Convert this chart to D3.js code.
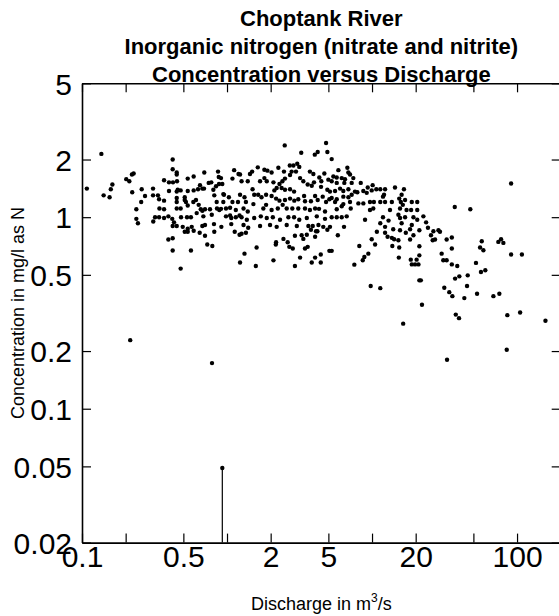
<!DOCTYPE html>
<html>
<head>
<meta charset="utf-8">
<script src="https://cdn.jsdelivr.net/npm/d3@7"></script>
<style>
  body { margin: 0; background: #fff; }
  svg { display: block; font-family: 'Liberation Sans', Arial, sans-serif; }
</style>
</head>
<body>
<div class="chart"></div>
<script>
'use strict';

// Chart text
const titleLines = [
  'Choptank River',
  'Inorganic nitrogen (nitrate and nitrite)',
  'Concentration versus Discharge'
];
const xTitle = 'Discharge in m';
const yTitle = 'Concentration in mg/l as N';

// Tick values, and which of them carry a label
const xTicks = [0.1, 0.2, 0.5, 1, 2, 5, 10, 20, 50, 100];
const xLabels = [0.1, 0.5, 2, 5, 20, 100];
const yTicks = [0.02, 0.05, 0.1, 0.2, 0.5, 1, 2, 5];

// Samples: [discharge m3/s, concentration mg/l]
const samples = [
  [0.108,1.41],[0.136,2.14],[0.141,1.30],[0.155,1.27],[0.158,1.40],[0.162,1.48],[0.202,1.58],[0.212,1.54],[0.221,1.67],[0.227,1.69],
  [0.222,1.35],[0.237,1.10],[0.237,0.98],[0.243,0.93],[0.258,1.40],[0.256,1.20],[0.272,1.29],[0.215,0.228],
  [0.422,2.00],[0.422,1.78],[0.450,1.71],[0.450,1.67],[0.368,1.56],[0.398,1.52],[0.424,1.52],[0.452,1.54],[0.457,1.39],[0.309,1.41],
  [0.309,1.30],[0.334,1.30],[0.340,1.24],[0.368,1.22],[0.368,1.10],[0.398,1.37],[0.450,1.36],[0.479,1.38],[0.450,1.26],[0.450,1.20],
  [0.450,1.11],[0.479,1.11],[0.511,1.27],[0.511,1.23],[0.536,1.59],[0.589,1.63],[0.536,1.37],[0.589,1.38],[0.631,1.40],[0.651,1.47],
  [0.676,1.41],[0.694,1.41],[0.697,1.71],[0.748,1.51],[0.779,1.52],[0.867,1.73],[0.877,1.62],[0.909,1.60],[0.805,1.39],[0.840,1.45],
  [0.881,1.49],[0.928,1.49],[0.943,1.32],[0.953,1.31],[1.09,1.59],[1.12,1.76],[1.20,1.68],[0.521,1.20],[0.536,1.15],[0.586,1.20],
  [0.611,1.23],[0.638,1.16],[0.659,1.10],[0.705,1.10],[0.763,1.10],[0.817,1.30],[0.849,1.20],[0.909,1.105],[0.943,1.20],[0.984,1.11],
  [1.03,1.27],[1.05,1.12],[1.09,1.20],[1.15,1.09],[1.19,1.20],[1.22,1.02],[0.342,1.11],[0.319,1.00],[0.310,0.95],[0.340,1.00],
  [0.368,0.99],[0.394,1.01],[0.419,0.98],[0.431,0.94],[0.482,1.00],[0.530,1.00],[0.564,1.00],[0.618,1.05],[0.676,1.08],[0.687,1.01],
  [0.705,0.91],[0.785,1.03],[0.853,1.11],[0.885,1.09],[0.984,1.01],[1.05,1.02],[1.07,0.99],[1.15,1.00],[0.422,0.90],[0.450,0.90],
  [0.495,0.89],[0.571,0.89],[0.676,0.90],[0.813,0.92],[0.914,0.89],[1.07,0.92],
  [0.511,0.84],[0.536,0.87],[0.536,0.84],[0.589,0.85],[0.648,0.83],[0.705,0.80],[0.817,0.84],[1.13,0.84],[1.22,0.81],[0.394,0.764],
  [0.422,0.776],[0.422,0.67],[0.564,0.67],[0.731,0.72],[0.792,0.707],[0.479,0.539],
  [2.50,2.37],[3.25,2.17],[4.03,2.12],[4.22,2.19],[4.82,2.44],[4.92,2.19],[1.49,1.73],[1.44,1.68],[1.63,1.82],[1.81,1.77],
  [1.90,1.75],[2.03,1.71],[2.26,1.81],[2.47,1.73],[2.71,1.86],[2.87,1.86],[3.05,1.90],[3.15,1.83],[2.79,1.73],[2.99,1.73],
  [2.72,1.66],[2.51,1.59],[2.41,1.54],[2.30,1.49],[2.20,1.42],[3.73,1.73],[3.94,1.68],[4.33,1.61],[4.69,1.69],[5.00,1.57],
  [3.19,1.60],[3.36,1.54],[3.60,1.48],[3.84,1.46],[3.98,1.52],[4.47,1.54],[4.45,1.44],[4.92,1.39],[1.23,1.67],[1.26,1.54],
  [1.39,1.54],[1.50,1.40],[1.69,1.54],[1.81,1.60],[1.88,1.54],[2.09,1.52],[2.12,1.38],[2.38,1.42],[2.51,1.39],[2.72,1.40],
  [2.90,1.36],[1.23,1.31],[1.32,1.27],[1.35,1.20],[1.54,1.31],[1.64,1.31],[1.73,1.27],[1.86,1.31],[2.03,1.29],[2.18,1.25],
  [2.30,1.22],[2.51,1.23],[2.72,1.25],[2.91,1.22],[3.10,1.24],[3.40,1.29],[3.45,1.21],[3.79,1.21],[4.05,1.29],[4.22,1.23],
  [4.57,1.28],[4.82,1.20],[5.08,1.24],[1.30,1.11],[1.39,1.07],[1.52,1.17],[1.78,1.11],[1.86,1.16],[2.03,1.09],[2.24,1.11],
  [2.42,1.16],[2.58,1.11],[2.82,1.11],[3.10,1.11],[3.45,1.11],[3.73,1.09],[4.05,1.11],[4.31,1.105],[4.74,1.07],[1.26,1.00],
  [1.37,0.97],[1.54,0.99],[1.71,1.01],[1.88,0.99],[2.07,1.00],[2.32,0.97],[2.65,1.00],[2.90,1.00],[3.15,0.97],[3.55,0.99],
  [4.16,1.01],[4.74,0.98],[1.30,0.91],[1.69,0.90],[1.98,0.91],[2.20,0.89],[2.58,0.91],[3.03,0.90],[3.64,0.90],[4.27,0.91],
  [1.40,0.88],[3.79,0.86],[3.90,0.90],[4.20,0.845],[4.61,0.89],[4.92,0.86],[1.26,0.82],[1.35,0.83],[2.18,0.74],[2.45,0.77],
  [2.62,0.74],[2.94,0.80],[3.27,0.805],[3.36,0.77],[3.55,0.81],[4.05,0.79],[4.11,0.845],[2.17,0.72],[2.69,0.70],[2.84,0.686],
  [3.45,0.686],[3.60,0.70],[1.60,0.694],[1.32,0.645],[1.23,0.58],[2.09,0.595],[3.19,0.615],[4.05,0.615],[4.43,0.638],[3.84,0.58],
  [4.43,0.58],[1.58,0.556],[2.94,0.556],[5.08,0.667],
  [5.27,2.01],[5.86,1.76],[6.76,1.81],[6.87,1.71],[5.41,1.63],[5.71,1.61],[5.27,1.54],[5.71,1.51],[6.18,1.60],[6.51,1.58],
  [7.05,1.67],[7.43,1.60],[6.44,1.51],[7.24,1.51],[8.36,1.51],[5.13,1.36],[5.56,1.37],[6.02,1.41],[6.34,1.37],[6.87,1.40],
  [7.63,1.36],[8.71,1.37],[9.34,1.43],[10.1,1.47],[10.7,1.40],[11.4,1.40],[12.3,1.40],[14.4,1.43],[16.6,1.40],[5.27,1.26],
  [5.71,1.24],[6.34,1.28],[6.87,1.27],[7.24,1.31],[7.92,1.35],[9.19,1.34],[9.95,1.38],[11.9,1.28],[12.1,1.31],[16.0,1.31],
  [15.4,1.25],[5.56,1.20],[6.34,1.17],[7.05,1.20],[8.05,1.18],[8.71,1.18],[9.68,1.20],[10.3,1.20],[11.4,1.20],[12.3,1.20],
  [13.7,1.20],[15.8,1.20],[16.9,1.23],[18.8,1.20],[20.5,1.20],[5.71,1.10],[6.18,1.14],[7.13,1.11],[9.68,1.09],[10.2,1.11],
  [13.3,1.09],[15.6,1.11],[16.3,1.16],[17.3,1.09],[18.6,1.09],[20.5,1.09],[5.27,1.00],[5.71,1.00],[6.18,1.00],[6.69,1.01],
  [8.95,0.97],[11.9,1.00],[13.0,0.96],[15.2,1.03],[15.6,0.99],[16.9,1.00],[19.3,1.00],[20.5,0.97],[6.41,0.89],[11.4,0.93],
  [12.3,0.89],[16.0,0.93],[18.8,0.91],
  [5.13,0.89],[10.8,0.84],[14.0,0.865],[15.6,0.855],[17.1,0.83],[18.3,0.865],[19.3,0.805],[18.3,0.764],[21.2,0.855],[5.81,0.805],
  [9.95,0.767],[10.5,0.72],[12.3,0.83],[12.8,0.79],[13.7,0.78],[14.2,0.767],[15.2,0.758],[13.8,0.707],[15.4,0.694],[5.27,0.667],
  [8.17,0.707],[9.43,0.645],[8.85,0.62],[8.63,0.596],[7.55,0.565],[15.3,0.615],[18.5,0.60],[18.8,0.567],[19.8,0.567],[20.3,0.60],
  [20.9,0.567],[21.2,0.705],[21.2,0.632],[9.79,0.437],[11.4,0.426],[16.4,0.278],[21.2,0.468],
  [91.0,1.50],[37.2,1.13],[47.6,1.10],[26.5,0.845],[28.7,0.855],[29.4,0.84],[25.5,0.805],[26.2,0.758],[27.2,0.764],[32.7,0.764],
  [35.5,0.783],[35.5,0.686],[30.2,0.645],[31.0,0.596],[32.7,0.596],[35.5,0.567],[38.7,0.556],[37.4,0.478],[40.0,0.491],[45.7,0.497],
  [45.2,0.437],[52.1,0.577],[57.1,0.749],[55.6,0.694],[58.6,0.672],[56.4,0.517],[60.4,0.528],[74.3,0.743],[77.6,0.767],[80.5,0.734],
  [91.0,0.638],[108,0.638],[31.5,0.428],[34.1,0.406],[35.8,0.387],[43.3,0.378],[53.0,0.398],[68.7,0.387],[75.5,0.398],[37.8,0.31],
  [39.8,0.297],[85.7,0.308],[105,0.318],[157,0.288],[22.1,0.349],[21.7,0.468],[84.9,0.203],[32.9,0.18],[22.6,1.01],[23.6,0.94],
  [24.3,0.88],[0.788,0.173]
];

// Less-than value, drawn with a stem down to the axis
const censored = [[0.928, 0.049]];

// Initialize
const w = 559;
const h = 616;
const plotLeft = 82;
const plotRight = 560.7;
const plotTop = 83.3;
const plotBottom = 542.6;
const tickLen = 9;
const color = '#000';

const svg = d3.select('.chart')
              .append('svg')
              .attr('width', w)
              .attr('height', h);

// Scales
const xScale = d3.scaleLog()
                 .domain([0.1, 200])
                 .range([plotLeft, plotRight]);

const yScale = d3.scaleLog()
                 .domain([0.02, 5])
                 .range([plotBottom, plotTop]);

// Axes, ticks pointing inward on all four sides
const xAxis = d3.axisBottom(xScale)
                .tickValues(xTicks)
                .tickSizeInner(-tickLen)
                .tickSizeOuter(0)
                .tickPadding(3)
                .tickFormat(d => xLabels.includes(d) ? d : '');

const yAxis = d3.axisLeft(yScale)
                .tickValues(yTicks)
                .tickSizeInner(-tickLen)
                .tickSizeOuter(0)
                .tickPadding(10)
                .tickFormat(d => d);

const xTop = d3.axisTop(xScale).tickValues(xTicks).tickSizeInner(-tickLen).tickSizeOuter(0).tickFormat('');
const yRight = d3.axisRight(yScale).tickValues(yTicks).tickSizeInner(-tickLen).tickSizeOuter(0).tickFormat('');

svg.append('g')
  .attr('id', 'x-axis')
  .attr('transform', `translate(0, ${plotBottom})`)
  .call(xAxis);

const gy = svg.append('g')
  .attr('id', 'y-axis')
  .attr('transform', `translate(${plotLeft}, 0)`)
  .call(yAxis);

svg.append('g')
  .attr('transform', `translate(0, ${plotTop})`)
  .call(xTop);

svg.append('g')
  .attr('transform', `translate(${plotRight}, 0)`)
  .call(yRight);

svg.selectAll('.domain').attr('stroke', color).attr('stroke-width', 1.6);
svg.selectAll('.tick line').attr('stroke', color).attr('stroke-width', 1.2);
svg.selectAll('.tick text')
  .attr('fill', color)
  .style('font-size', '30px')
  .style('font-family', "'Liberation Sans', Arial, sans-serif");
gy.selectAll('.tick text').attr('dy', '0.36em');

// Censored value stem
svg.selectAll('.stem')
  .data(censored)
  .enter()
  .append('line')
  .attr('class', 'stem')
  .attr('x1', d => xScale(d[0]))
  .attr('x2', d => xScale(d[0]))
  .attr('y1', d => yScale(d[1]))
  .attr('y2', plotBottom)
  .attr('stroke', color)
  .attr('stroke-width', 1.2);

// Points
svg.selectAll('circle')
  .data(samples.concat(censored))
  .enter()
  .append('circle')
  .attr('cx', d => xScale(d[0]))
  .attr('cy', d => yScale(d[1]))
  .attr('r', 2.2)
  .attr('fill', color);

// Title
svg.append('g')
  .selectAll('text')
  .data(titleLines)
  .enter()
  .append('text')
  .attr('x', (plotLeft + plotRight) / 2)
  .attr('y', (d, i) => 26 + i * 28)
  .attr('text-anchor', 'middle')
  .style('font-size', '22px')
  .style('font-weight', 'bold')
  .text(d => d);

// Axis titles
const xt = svg.append('text')
  .attr('x', (plotLeft + plotRight) / 2)
  .attr('y', 610)
  .attr('text-anchor', 'middle')
  .style('font-size', '18px')
  .text(xTitle);
xt.append('tspan').attr('dy', -8).style('font-size', '12px').text('3');
xt.append('tspan').attr('dy', 8).text('/s');

svg.append('text')
  .attr('transform', `translate(24, ${(plotTop + plotBottom) / 2}) rotate(-90)`)
  .attr('text-anchor', 'middle')
  .style('font-size', '18px')
  .text(yTitle);
</script>
</body>
</html>
